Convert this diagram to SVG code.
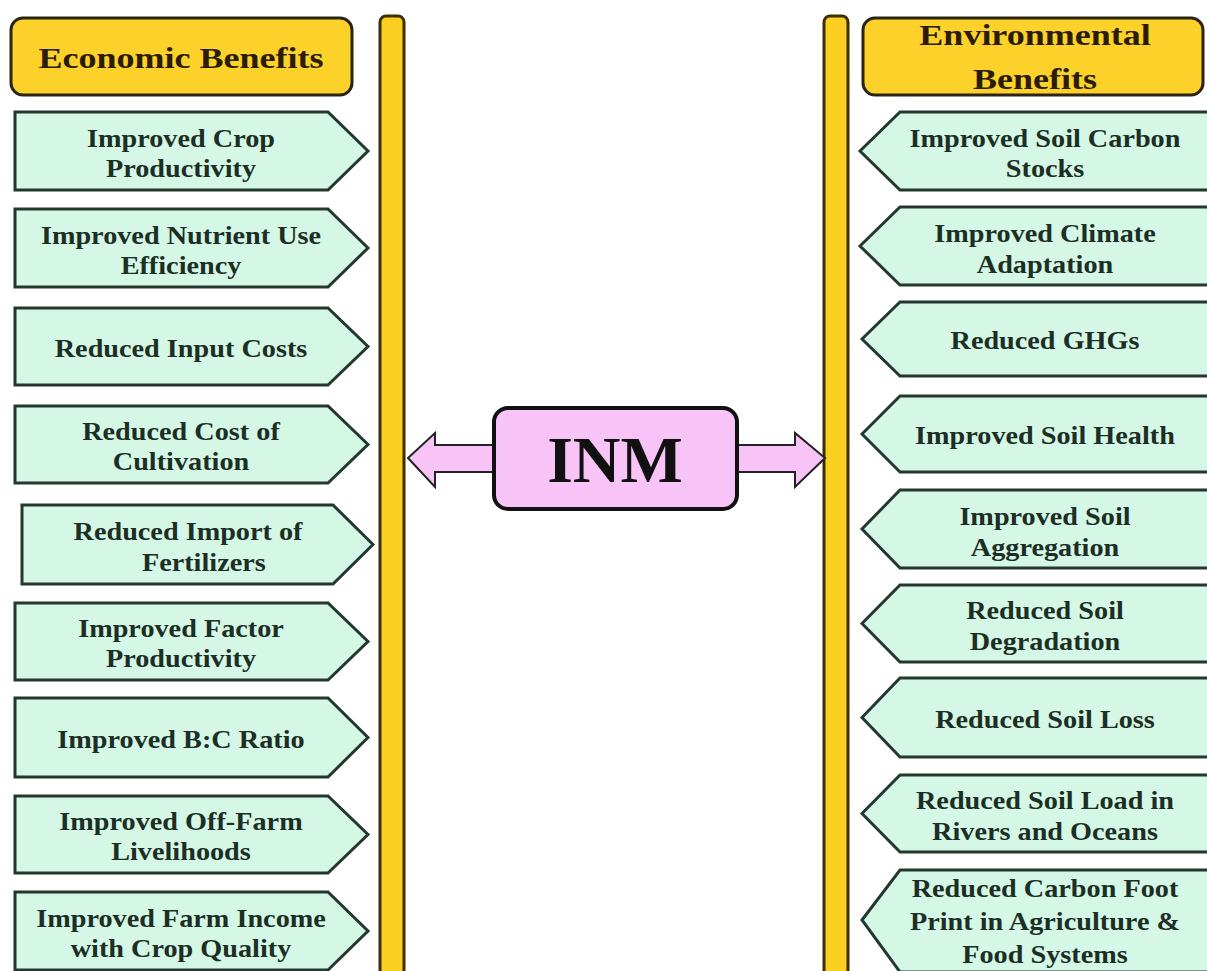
<svg xmlns="http://www.w3.org/2000/svg" width="1207" height="971" viewBox="0 0 1207 971">
<style>
.hdr{fill:#FCD12A;stroke:#2b2410;stroke-width:3}
.bar{fill:#FBCF22;stroke:#3b2e00;stroke-width:3}
.box{fill:#D4F7E6;stroke:#24382f;stroke-width:3;stroke-linejoin:miter}
.ht{font-family:"Liberation Serif","Times New Roman",serif;font-weight:bold;font-size:30px;fill:#2a1c05;text-anchor:middle}
.bt{font-family:"Liberation Serif","Times New Roman",serif;font-weight:bold;font-size:25px;fill:#1d2f24;text-anchor:middle}
.inm{fill:#F8C4F8;stroke:#111;stroke-width:4}
.arr{fill:#F8C4F8;stroke:#222;stroke-width:2;stroke-linejoin:miter}
.it{font-family:"Liberation Serif","Times New Roman",serif;font-weight:bold;font-size:66px;fill:#111;text-anchor:middle}
</style>
<rect width="1207" height="971" fill="#ffffff"/>

<g id="bars">
<rect class="bar" x="380" y="16" width="24" height="975" rx="6"/>
<rect class="bar" x="824" y="16" width="24" height="975" rx="6"/>
</g>

<g id="hdr-economic">
<rect class="hdr" x="11" y="18" width="341" height="77" rx="12"/>
<text class="ht" transform="translate(181 68) scale(1.2 1)">Economic Benefits</text>
</g>
<g id="hdr-environmental">
<rect class="hdr" x="863" y="18" width="340" height="77" rx="12"/>
<text class="ht" transform="translate(1035 45) scale(1.2 1)"><tspan x="0">Environmental</tspan><tspan x="0" dy="44">Benefits</tspan></text>
</g>

<g id="connectors">
<polygon class="arr" points="494,445 435,445 435,433 408,458 435,487 435,472 494,472"/>
<polygon class="arr" points="737,445 795,445 795,433 825,458 795,487 795,472 737,472"/>
</g>

<g id="inm">
<rect class="inm" x="494" y="408" width="243" height="101" rx="14"/>
<text class="it" x="615" y="482">INM</text>
</g>

<!-- Left: Economic benefits -->
<g id="e1"><polygon class="box" points="15,112 328,112 368,151 328,190 15,190"/>
<text class="bt" transform="translate(181 147) scale(1.13 1)"><tspan x="0">Improved Crop</tspan><tspan x="0" dy="30">Productivity</tspan></text></g>
<g id="e2"><polygon class="box" points="15,209 328,209 368,248 328,287 15,287"/>
<text class="bt" transform="translate(181 244) scale(1.13 1)"><tspan x="0">Improved Nutrient Use</tspan><tspan x="0" dy="30">Efficiency</tspan></text></g>
<g id="e3"><polygon class="box" points="15,308 328,308 368,346.5 328,385 15,385"/>
<text class="bt" transform="translate(181 357) scale(1.13 1)">Reduced Input Costs</text></g>
<g id="e4"><polygon class="box" points="15,406 328,406 368,444.5 328,483 15,483"/>
<text class="bt" transform="translate(181 440) scale(1.13 1)"><tspan x="0">Reduced Cost of</tspan><tspan x="0" dy="30">Cultivation</tspan></text></g>
<g id="e5"><polygon class="box" points="22,505 333,505 373,544.5 333,584 22,584"/>
<text class="bt" transform="translate(188 540) scale(1.13 1)"><tspan x="0">Reduced Import of</tspan><tspan x="14" dy="31">Fertilizers</tspan></text></g>
<g id="e6"><polygon class="box" points="15,603 328,603 368,641.5 328,680 15,680"/>
<text class="bt" transform="translate(181 637) scale(1.13 1)"><tspan x="0">Improved Factor</tspan><tspan x="0" dy="30">Productivity</tspan></text></g>
<g id="e7"><polygon class="box" points="15,698 328,698 368,737.5 328,777 15,777"/>
<text class="bt" transform="translate(181 748) scale(1.13 1)">Improved B:C Ratio</text></g>
<g id="e8"><polygon class="box" points="15,796 328,796 368,834.5 328,873 15,873"/>
<text class="bt" transform="translate(181 830) scale(1.13 1)"><tspan x="0">Improved Off-Farm</tspan><tspan x="0" dy="30">Livelihoods</tspan></text></g>
<g id="e9"><polygon class="box" points="15,892 328,892 368,931 328,970 15,970"/>
<text class="bt" transform="translate(181 927) scale(1.13 1)"><tspan x="0">Improved Farm Income</tspan><tspan x="0" dy="30">with Crop Quality</tspan></text></g>

<!-- Right: Environmental benefits -->
<g id="v1"><polygon class="box" points="860,151 900,112 1212,112 1212,190 900,190"/>
<text class="bt" transform="translate(1045 147) scale(1.13 1)"><tspan x="0">Improved Soil Carbon</tspan><tspan x="0" dy="30">Stocks</tspan></text></g>
<g id="v2"><polygon class="box" points="860,246 900,207 1212,207 1212,285 900,285"/>
<text class="bt" transform="translate(1045 242) scale(1.13 1)"><tspan x="0">Improved Climate</tspan><tspan x="0" dy="31">Adaptation</tspan></text></g>
<g id="v3"><polygon class="box" points="862,339 900,302 1212,302 1212,376 900,376"/>
<text class="bt" transform="translate(1045 349) scale(1.13 1)">Reduced GHGs</text></g>
<g id="v4"><polygon class="box" points="862,434 900,396 1212,396 1212,472 900,472"/>
<text class="bt" transform="translate(1045 444) scale(1.13 1)">Improved Soil Health</text></g>
<g id="v5"><polygon class="box" points="862,529 900,490 1212,490 1212,568 900,568"/>
<text class="bt" transform="translate(1045 525) scale(1.13 1)"><tspan x="0">Improved Soil</tspan><tspan x="0" dy="31">Aggregation</tspan></text></g>
<g id="v6"><polygon class="box" points="862,623.5 900,585 1212,585 1212,662 900,662"/>
<text class="bt" transform="translate(1045 619) scale(1.13 1)"><tspan x="0">Reduced Soil</tspan><tspan x="0" dy="31">Degradation</tspan></text></g>
<g id="v7"><polygon class="box" points="862,717.5 900,678 1212,678 1212,757 900,757"/>
<text class="bt" transform="translate(1045 728) scale(1.13 1)">Reduced Soil Loss</text></g>
<g id="v8"><polygon class="box" points="862,813.5 900,775 1212,775 1212,852 900,852"/>
<text class="bt" transform="translate(1045 809) scale(1.13 1)"><tspan x="0">Reduced Soil Load in</tspan><tspan x="0" dy="31">Rivers and Oceans</tspan></text></g>
<g id="v9"><polygon class="box" points="862,920 900,870 1212,870 1212,972 900,972"/>
<text class="bt" transform="translate(1045 897) scale(1.13 1)"><tspan x="0">Reduced Carbon Foot</tspan><tspan x="0" dy="33">Print in Agriculture &amp;</tspan><tspan x="0" dy="33">Food Systems</tspan></text></g>
</svg>
